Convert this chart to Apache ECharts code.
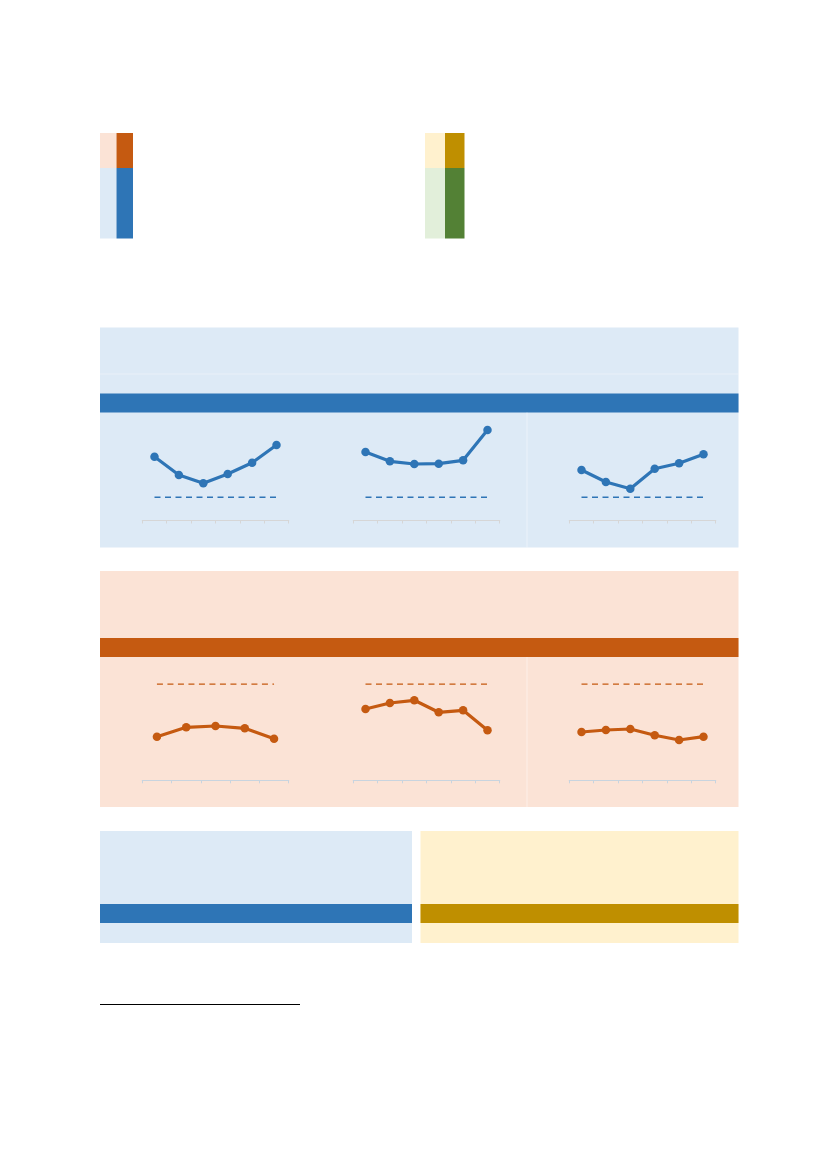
<!DOCTYPE html>
<html>
<head>
<meta charset="utf-8">
<script src="https://cdn.jsdelivr.net/npm/echarts@6/dist/echarts.min.js"></script>
<style>
  html, body { margin: 0; padding: 0; background: #fff; }
  #page { width: 827px; height: 1169px; }
</style>
</head>
<body>
<div id="page"></div>
<script>
// categories on each small chart
var periods6 = ['1', '2', '3', '4', '5', '6'];
var periods5 = ['1', '2', '3', '4', '5'];

// blue row
var blueA = [6.38, 4.55, 3.72, 4.65, 5.78, 7.55];
var blueB = [6.85, 5.92, 5.65, 5.68, 6.02, 9.05];
var blueC = [5.05, 3.85, 3.18, 5.18, 5.72, 6.62];
var blueRef = 2.32;

// orange row
var orangeA = [4.36, 5.30, 5.43, 5.20, 4.16];
var orangeB = [7.13, 7.73, 8.00, 6.80, 7.00, 5.00];
var orangeC = [4.83, 5.03, 5.13, 4.50, 4.03, 4.36];
var orangeRef = 9.62;

var BLUE = '#2E75B6', BLUE_L = '#DDEAF6';
var ORANGE = '#C55A11', ORANGE_L = '#FBE3D6';
var GOLD = '#BF8F00', GOLD_L = '#FFF1CE';
var GREEN = '#538135', GREEN_L = '#E2EFDA';

var chart = echarts.init(document.getElementById('page'));

var charts = [
  { data: blueA, cats: periods6, ref: blueRef, color: BLUE, left: 142.3, top: 420.5, axis: '#d6d6d6' },
  { data: blueB, cats: periods6, ref: blueRef, color: BLUE, left: 353.3, top: 420.5, axis: '#d6d6d6' },
  { data: blueC, cats: periods6, ref: blueRef, color: BLUE, left: 569.3, top: 420.5, axis: '#d6d6d6' },
  { data: orangeA, cats: periods5, ref: orangeRef, color: ORANGE, left: 142.3, top: 680.3, axis: '#c8d4df' },
  { data: orangeB, cats: periods6, ref: orangeRef, color: ORANGE, left: 353.3, top: 680.3, axis: '#c8d4df' },
  { data: orangeC, cats: periods6, ref: orangeRef, color: ORANGE, left: 569.3, top: 680.3, axis: '#c8d4df' }
];

var grids = [], xAxes = [], yAxes = [], series = [];
charts.forEach(function (c, i) {
  grids.push({ left: c.left, top: c.top, width: 146.4, height: 100 });
  xAxes.push({
    gridIndex: i, type: 'category', data: c.cats, boundaryGap: true,
    axisLine: { lineStyle: { color: c.axis, width: 1.2 } },
    axisTick: { show: true, length: 3, lineStyle: { color: c.axis } },
    axisLabel: { show: false }, splitLine: { show: false }
  });
  yAxes.push({ gridIndex: i, type: 'value', min: 0, max: 10, show: false });
  series.push({
    type: 'line', xAxisIndex: i, yAxisIndex: i, data: c.data,
    symbol: 'circle', symbolSize: 8.5,
    lineStyle: { color: c.color, width: 3.2 },
    itemStyle: { color: c.color },
    z: 5, silent: true
  });
  series.push({
    type: 'line', xAxisIndex: i, yAxisIndex: i,
    data: c.cats.map(function () { return c.ref; }),
    symbol: 'none',
    lineStyle: { color: c.color, width: 1.4, type: [6, 4.5] },
    z: 4, silent: true
  });
});

function rect(x, y, w, h, fill) {
  return { type: 'rect', shape: { x: x, y: y, width: w, height: h }, style: { fill: fill }, z: -10, silent: true };
}
function line(x1, y1, x2, y2, stroke, w) {
  return { type: 'line', shape: { x1: x1, y1: y1, x2: x2, y2: y2 }, style: { stroke: stroke, lineWidth: w }, z: -5, silent: true };
}

var graphics = [
  // key blocks at top
  rect(100, 133, 16.5, 35, ORANGE_L), rect(116.5, 133, 16.5, 35, ORANGE),
  rect(100, 168, 16.5, 70.5, BLUE_L), rect(116.5, 168, 16.5, 70.5, BLUE),
  rect(425, 133, 20, 35, GOLD_L), rect(445, 133, 19.5, 35, GOLD),
  rect(425, 168, 20, 70.5, GREEN_L), rect(445, 168, 19.5, 70.5, GREEN),

  // blue panel
  rect(100, 327.5, 638.5, 220, BLUE_L),
  rect(100, 393.5, 638.5, 19, BLUE),
  line(100, 374, 738.5, 374, 'rgba(255,255,255,0.35)', 1),
  line(527, 412.5, 527, 547.5, 'rgba(255,255,255,0.45)', 1),

  // orange panel
  rect(100, 571, 638.5, 236, ORANGE_L),
  rect(100, 638, 638.5, 19, ORANGE),
  line(527, 657, 527, 807, 'rgba(255,255,255,0.45)', 1),

  // bottom panels
  rect(100, 831, 312, 112, BLUE_L),
  rect(100, 904, 312, 19, BLUE),
  rect(420.5, 831, 318, 112, GOLD_L),
  rect(420.5, 904, 318, 19, GOLD),

  // footnote rule
  line(100, 1004.5, 300, 1004.5, '#000', 1.2)
];

var option = {
  animation: false,
  grid: grids,
  xAxis: xAxes,
  yAxis: yAxes,
  series: series,
  graphic: graphics
};
option && chart.setOption(option);
</script>
</body>
</html>
